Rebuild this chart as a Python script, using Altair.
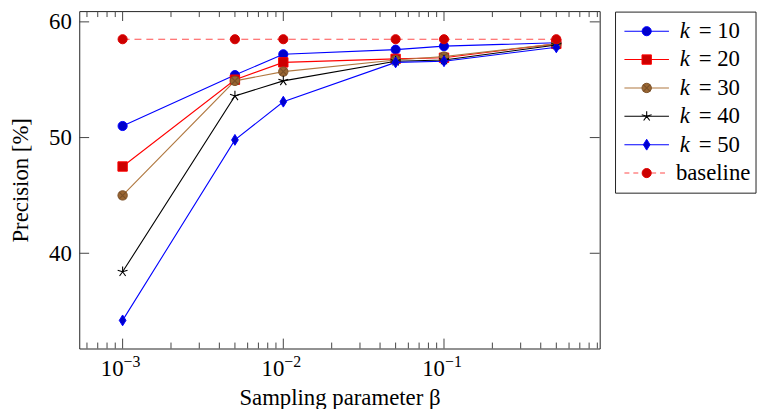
import math
import altair as alt
import pandas as pd

# ---------------- data ----------------
beta = [0.001, 0.005, 0.01, 0.05, 0.1, 0.5]
series_names = ["k = 10", "k = 20", "k = 30", "k = 40", "k = 50", "baseline"]
prec_k10 = [51.0, 55.4, 57.2, 57.6, 57.9, 58.2]
prec_k20 = [47.5, 55.0, 56.5, 56.8, 56.9, 58.1]
prec_k30 = [45.0, 54.9, 55.7, 56.7, 57.0, 58.1]
prec_k40 = [38.4, 53.6, 54.9, 56.6, 56.7, 58.0]
prec_k50 = [34.2, 49.8, 53.1, 56.5, 56.6, 57.8]
prec_baseline = [58.5, 58.5, 58.5, 58.5, 58.5, 58.5]

x_tick_values = [0.001, 0.01, 0.1]
x_tick_base = ["10", "10", "10"]
x_tick_exp = ["\u22123", "\u22122", "\u22121"]
y_tick_values = [40, 50, 60]
x_title = "Sampling parameter β"
y_title = "Precision [%]"

all_prec = [prec_k10, prec_k20, prec_k30, prec_k40, prec_k50, prec_baseline]
rows = []
for name, vals in zip(series_names, all_prec):
    for b, p in zip(beta, vals):
        rows.append({"beta": b, "precision": p, "series": name})
df = pd.DataFrame(rows)

# ---------------- styles ----------------
FONT = "'Liberation Serif', 'DejaVu Serif', serif"
FS = 23
FS_EXP = 16
W, H = 526, 341
TICK_MAJ, TICK_MIN = 10, 6
TICK_COLOR = "#444444"

line_color = ["#0000ff", "#ff0000", "#b07840", "#000000", "#0000ff", "#ff4d4d"]
mark_fill = ["#0000cc", "#cc0000", "#996633", "#000000", "#0000cc", "#cc0000"]
mark_stroke = ["#0000ff", "#ff0000", "#7a5028", "#000000", "#0000ff", "#dd0000"]
dash = [None, None, None, None, None, [7, 5]]
DIAMOND = "M0,-1L0.62,0L0,1L-0.62,0Z"
STAR = "M0,0L0,-1M0,0L-0.951,-0.309M0,0L-0.588,0.809M0,0L0.588,0.809M0,0L0.951,-0.309"
XCROSS = "M-0.7,-0.7L0.7,0.7M-0.7,0.7L0.7,-0.7"
marker = [
    [("circle", True, 85)],
    [("square", True, 90)],
    [("circle", True, 90), (XCROSS, False, 110)],
    [(STAR, False, 110)],
    [(DIAMOND, True, 120)],
    [("circle", True, 85)],
]

# axis limits (10% enlargement as in pgfplots)
lx0, lx1 = math.log10(min(beta)), math.log10(max(beta))
ex = 0.1 * (lx1 - lx0)
x_dom = [10 ** (lx0 - ex), 10 ** (lx1 + ex)]
ymin = min(min(v) for v in all_prec)
ymax = max(max(v) for v in all_prec)
ey = 0.1 * (ymax - ymin)
y_dom = [ymin - ey, ymax + ey]

x_minor = [m * d for d in [1e-4, 1e-3, 1e-2, 1e-1] for m in range(2, 10)
           if x_dom[0] <= m * d <= x_dom[1]]

x_scale = alt.Scale(type="log", domain=x_dom, nice=False)
y_scale = alt.Scale(domain=y_dom, nice=False, zero=False)

axis_common = dict(ticks=False, tickSize=0, domain=False, grid=False,
                   labelFont=FONT, labelFontSize=FS, labelColor="black",
                   titleFont=FONT, titleFontSize=FS, titleColor="black",
                   titleFontWeight="normal", labelOverlap=False, labelFlush=False)
x_axis = alt.Axis(values=x_tick_values, labels=False, titlePadding=39, **axis_common)
y_axis = alt.Axis(values=y_tick_values, labelPadding=8, titlePadding=16, **axis_common)

x_enc = alt.X("beta:Q", scale=x_scale, axis=x_axis, title=x_title)
y_enc = alt.Y("precision:Q", scale=y_scale, axis=y_axis, title=y_title)


def point_layer(chart, shape, filled, size, i, enc_x, enc_y):
    kw = dict(shape=shape, size=size, opacity=1)
    if filled:
        kw.update(filled=True, fill=mark_fill[i], stroke=mark_stroke[i], strokeWidth=1)
    else:
        kw.update(filled=False, stroke=mark_stroke[i], strokeWidth=1.1)
    return chart.mark_point(**kw).encode(x=enc_x, y=enc_y)


main_layers = []
for i, name in enumerate(series_names):
    sub = alt.Chart(df).transform_filter(alt.FieldEqualPredicate(field="series", equal=name))
    lkw = dict(color=line_color[i], strokeWidth=1.1)
    if dash[i]:
        lkw["strokeDash"] = dash[i]
    main_layers.append(sub.mark_line(**lkw).encode(x=x_enc, y=y_enc))
    for shape, filled, size in marker[i]:
        main_layers.append(point_layer(sub, shape, filled, size, i, x_enc, y_enc))

# ticks drawn inside the frame
xmaj_df = pd.DataFrame({"beta": x_tick_values, "base": x_tick_base, "exp": x_tick_exp})
xmin_df = pd.DataFrame({"beta": x_minor})
y_df = pd.DataFrame({"precision": y_tick_values})
for tdf, ln in [(xmaj_df, TICK_MAJ), (xmin_df, TICK_MIN)]:
    main_layers.append(alt.Chart(tdf).mark_rule(color=TICK_COLOR, strokeWidth=1).encode(
        x=x_enc, y=alt.value(H), y2=alt.value(H - ln)))
    main_layers.append(alt.Chart(tdf).mark_rule(color=TICK_COLOR, strokeWidth=1).encode(
        x=x_enc, y=alt.value(0), y2=alt.value(ln)))
main_layers.append(alt.Chart(y_df).mark_rule(color=TICK_COLOR, strokeWidth=1).encode(
    y=y_enc, x=alt.value(0), x2=alt.value(TICK_MAJ)))
main_layers.append(alt.Chart(y_df).mark_rule(color=TICK_COLOR, strokeWidth=1).encode(
    y=y_enc, x=alt.value(W - TICK_MAJ), x2=alt.value(W)))

# x tick labels 10^k  (base + raised exponent)
main_layers.append(alt.Chart(xmaj_df).mark_text(
    align="right", baseline="alphabetic", font=FONT, fontSize=FS, color="black", dx=1).encode(
    x=x_enc, y=alt.value(H + 28), text="base:N"))
main_layers.append(alt.Chart(xmaj_df).mark_text(
    align="left", baseline="alphabetic", font=FONT, fontSize=FS_EXP, color="black", dx=1).encode(
    x=x_enc, y=alt.value(H + 19), text="exp:N"))

main = alt.layer(*main_layers)

# ---------------- legend ----------------
leg_var = [s.split(" = ")[0] if " = " in s else "" for s in series_names]
leg_rest = ["= " + s.split(" = ")[1] if " = " in s else s for s in series_names]
leg_df = pd.DataFrame({"series": series_names, "var": leg_var, "rest": leg_rest})
leg_y = alt.Y("series:N", axis=None,
              scale=alt.Scale(type="point", domain=series_names, range=[20.3, 163.7], padding=0))

legend_layers = [
    alt.Chart(pd.DataFrame({"series": [series_names[0]]})).mark_rect(
        fill="white", stroke="#222222", strokeWidth=1).encode(
        x=alt.value(542), x2=alt.value(684), y=alt.value(1), y2=alt.value(184))
]
for i, name in enumerate(series_names):
    sub = alt.Chart(leg_df).transform_filter(alt.FieldEqualPredicate(field="series", equal=name))
    lkw = dict(color=line_color[i], strokeWidth=1.1)
    if dash[i]:
        lkw["strokeDash"] = [5, 4]
    legend_layers.append(sub.mark_rule(**lkw).encode(y=leg_y, x=alt.value(551), x2=alt.value(596)))
    for shape, filled, size in marker[i]:
        legend_layers.append(point_layer(sub, shape, filled, size, i, alt.value(573.5), leg_y))

k_rows = alt.Chart(leg_df).transform_filter(alt.datum.var != "")
legend_layers.append(k_rows.mark_text(align="left", baseline="middle", font=FONT, fontSize=FS,
                                      fontStyle="italic", color="black").encode(
    y=leg_y, x=alt.value(607), text="var:N"))
legend_layers.append(k_rows.mark_text(align="left", baseline="middle", font=FONT, fontSize=FS,
                                      color="black").encode(
    y=leg_y, x=alt.value(626), text="rest:N"))
legend_layers.append(alt.Chart(leg_df).transform_filter(alt.datum.var == "").mark_text(
    align="left", baseline="middle", font=FONT, fontSize=FS, color="black").encode(
    y=leg_y, x=alt.value(603), text="rest:N"))

legend = alt.layer(*legend_layers)

chart = alt.layer(main, legend).resolve_scale(y="independent").properties(
    width=W, height=H,
    autosize=alt.AutoSizeParams(type="none"),
    padding={"left": 72, "top": 1, "right": 160, "bottom": 59},
).configure_view(stroke="#222222", strokeWidth=1)

chart.save("out.html", embed_options={"renderer": "svg", "actions": False})
